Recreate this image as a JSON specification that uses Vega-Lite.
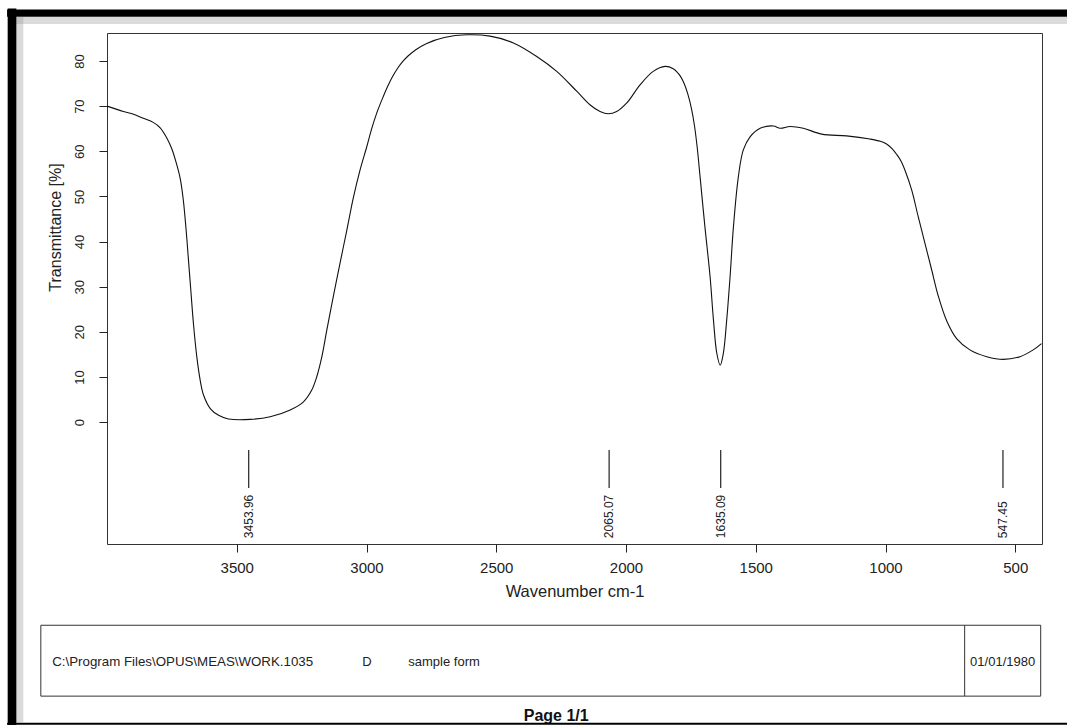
{
  "$schema": "https://vega.github.io/schema/vega-lite/v6.json",
  "autosize": {"type": "none"},
  "width": 935,
  "height": 511,
  "padding": {"left": 107, "top": 33, "right": 25, "bottom": 181},
  "background": "white",
  "config": {
    "view": {"stroke": "#333", "strokeWidth": 1},
    "font": "Liberation Sans",
    "text": {"font": "Liberation Sans", "color": "#222"}
  },
  "datasets": {
    "spectrum": [
      {"wn": 4000, "T": 70.0}, {"wn": 3937, "T": 68.8}, {"wn": 3898, "T": 68.2}, {"wn": 3860, "T": 67.3},
      {"wn": 3822, "T": 66.4}, {"wn": 3795, "T": 65.2}, {"wn": 3770, "T": 63.0}, {"wn": 3750, "T": 60.5},
      {"wn": 3735, "T": 57.8}, {"wn": 3718, "T": 54.0}, {"wn": 3706, "T": 49.2}, {"wn": 3695, "T": 42.5},
      {"wn": 3687, "T": 36.6}, {"wn": 3677, "T": 29.2}, {"wn": 3667, "T": 21.9}, {"wn": 3654, "T": 14.5},
      {"wn": 3641, "T": 9.3}, {"wn": 3628, "T": 6.0}, {"wn": 3602, "T": 3.0}, {"wn": 3570, "T": 1.5},
      {"wn": 3532, "T": 0.7}, {"wn": 3448, "T": 0.6}, {"wn": 3371, "T": 1.2}, {"wn": 3294, "T": 2.7},
      {"wn": 3243, "T": 4.5}, {"wn": 3211, "T": 7.1}, {"wn": 3192, "T": 10.0}, {"wn": 3172, "T": 14.5},
      {"wn": 3153, "T": 20.4}, {"wn": 3128, "T": 27.8}, {"wn": 3102, "T": 35.2}, {"wn": 3076, "T": 42.5},
      {"wn": 3050, "T": 49.9}, {"wn": 3025, "T": 55.8}, {"wn": 2999, "T": 61.0}, {"wn": 2980, "T": 65.0},
      {"wn": 2961, "T": 68.4}, {"wn": 2940, "T": 71.5}, {"wn": 2920, "T": 74.2}, {"wn": 2900, "T": 76.5},
      {"wn": 2880, "T": 78.4}, {"wn": 2860, "T": 79.9}, {"wn": 2840, "T": 81.1}, {"wn": 2810, "T": 82.5},
      {"wn": 2768, "T": 83.9}, {"wn": 2700, "T": 85.2}, {"wn": 2614, "T": 85.8}, {"wn": 2524, "T": 85.5},
      {"wn": 2434, "T": 84.0}, {"wn": 2344, "T": 81.0}, {"wn": 2267, "T": 77.7}, {"wn": 2190, "T": 73.3},
      {"wn": 2139, "T": 70.3}, {"wn": 2100, "T": 68.8}, {"wn": 2068, "T": 68.3}, {"wn": 2036, "T": 68.8},
      {"wn": 1997, "T": 70.7}, {"wn": 1946, "T": 74.7}, {"wn": 1895, "T": 77.7}, {"wn": 1849, "T": 78.8},
      {"wn": 1818, "T": 78.3}, {"wn": 1804, "T": 77.6}, {"wn": 1790, "T": 76.6}, {"wn": 1776, "T": 75.0},
      {"wn": 1762, "T": 72.7}, {"wn": 1748, "T": 69.5}, {"wn": 1736, "T": 65.6}, {"wn": 1725, "T": 60.5},
      {"wn": 1715, "T": 54.6}, {"wn": 1696, "T": 43.3}, {"wn": 1676, "T": 32.2}, {"wn": 1663, "T": 22.6},
      {"wn": 1650, "T": 15.2}, {"wn": 1637, "T": 12.6}, {"wn": 1625, "T": 15.2}, {"wn": 1612, "T": 22.6},
      {"wn": 1599, "T": 32.2}, {"wn": 1586, "T": 43.3}, {"wn": 1567, "T": 54.4}, {"wn": 1548, "T": 60.3},
      {"wn": 1522, "T": 63.2}, {"wn": 1483, "T": 65.1}, {"wn": 1432, "T": 65.6}, {"wn": 1406, "T": 65.1},
      {"wn": 1368, "T": 65.5}, {"wn": 1317, "T": 65.1}, {"wn": 1246, "T": 63.8}, {"wn": 1150, "T": 63.4},
      {"wn": 1060, "T": 62.7}, {"wn": 1020, "T": 62.2}, {"wn": 996, "T": 61.6}, {"wn": 975, "T": 60.6},
      {"wn": 957, "T": 59.3}, {"wn": 940, "T": 57.8}, {"wn": 925, "T": 55.8},
      {"wn": 899, "T": 51.4}, {"wn": 874, "T": 45.5}, {"wn": 848, "T": 39.6}, {"wn": 822, "T": 33.7},
      {"wn": 797, "T": 28.0}, {"wn": 764, "T": 22.4}, {"wn": 726, "T": 18.5}, {"wn": 675, "T": 16.0},
      {"wn": 610, "T": 14.5}, {"wn": 546, "T": 13.9}, {"wn": 482, "T": 14.5}, {"wn": 431, "T": 16.0},
      {"wn": 399, "T": 17.4}
    ],
    "peaks": [
      {"peak": 3453.96, "label": "3453.96"},
      {"peak": 2065.07, "label": "2065.07"},
      {"peak": 1635.09, "label": "1635.09"},
      {"peak": 547.45, "label": "547.45"}
    ]
  },
  "layer": [
    {
      "data": {"name": "spectrum"},
      "mark": {"type": "line", "color": "#111", "strokeWidth": 1.1, "interpolate": "catmull-rom"},
      "encoding": {
        "x": {
          "field": "wn", "type": "quantitative",
          "scale": {"domain": [397, 4000], "reverse": true, "nice": false, "zero": false},
          "axis": {
            "title": "Wavenumber cm-1", "values": [500, 1000, 1500, 2000, 2500, 3000, 3500], "format": "d",
            "domain": false, "grid": false, "ticks": true, "tickSize": 8, "tickColor": "#222",
            "labelFont": "Liberation Sans", "labelFontSize": 15, "labelColor": "#222", "labelPadding": 8,
            "titleFont": "Liberation Sans", "titleFontSize": 16.5, "titleFontWeight": "normal", "titleColor": "#222", "titlePadding": 8
          }
        },
        "y": {
          "field": "T", "type": "quantitative",
          "scale": {"domain": [-27, 86.2], "nice": false, "zero": false},
          "axis": {
            "title": "Transmittance [%]", "values": [0, 10, 20, 30, 40, 50, 60, 70, 80],
            "domain": false, "grid": false, "tickSize": 8, "tickColor": "#222",
            "labelAngle": -90, "labelAlign": "center", "labelBaseline": "bottom",
            "labelFont": "Liberation Sans", "labelFontSize": 13, "labelColor": "#222", "labelPadding": 13,
            "titleFont": "Liberation Sans", "titleFontSize": 16, "titleFontWeight": "normal", "titleColor": "#222",
            "titleAngle": -90, "titleX": -47, "titleY": 194, "titleAlign": "center", "titleBaseline": "alphabetic"
          }
        },
        "order": {"field": "wn", "sort": "descending"}
      }
    },
    {
      "data": {"name": "peaks"},
      "mark": {"type": "rule", "color": "#222", "strokeWidth": 1.2},
      "encoding": {
        "x": {"field": "peak", "type": "quantitative"},
        "y": {"datum": -6.2},
        "y2": {"datum": -14.6}
      }
    },
    {
      "data": {"name": "peaks"},
      "mark": {"type": "text", "angle": 270, "align": "left", "baseline": "middle", "fontSize": 12, "color": "#222"},
      "encoding": {
        "x": {"field": "peak", "type": "quantitative"},
        "y": {"datum": -25.7},
        "text": {"field": "label"}
      }
    },
    {
      "data": {"values": [{"part": "footer box"}]},
      "mark": {"type": "rect", "fill": "white", "stroke": "#333", "strokeWidth": 1, "clip": false},
      "encoding": {
        "x": {"datum": 4255}, "x2": {"datum": 402},
        "y": {"datum": -45.0}, "y2": {"datum": -60.7}
      }
    },
    {
      "data": {"values": [{"part": "footer divider"}]},
      "mark": {"type": "rule", "color": "#333", "strokeWidth": 1},
      "encoding": {
        "x": {"datum": 695},
        "y": {"datum": -45.0}, "y2": {"datum": -60.7}
      }
    },
    {
      "data": {"values": [{"text": "C:\\Program Files\\OPUS\\MEAS\\WORK.1035"}]},
      "mark": {"type": "text", "align": "left", "baseline": "middle", "fontSize": 13.3, "color": "#222"},
      "encoding": {"x": {"datum": 4211}, "y": {"datum": -53.2}, "text": {"field": "text"}}
    },
    {
      "data": {"values": [{"text": "D"}]},
      "mark": {"type": "text", "align": "left", "baseline": "middle", "fontSize": 13, "color": "#222"},
      "encoding": {"x": {"datum": 3016}, "y": {"datum": -53.2}, "text": {"field": "text"}}
    },
    {
      "data": {"values": [{"text": "sample form"}]},
      "mark": {"type": "text", "align": "left", "baseline": "middle", "fontSize": 13, "color": "#222"},
      "encoding": {"x": {"datum": 2839}, "y": {"datum": -53.2}, "text": {"field": "text"}}
    },
    {
      "data": {"values": [{"text": "01/01/1980"}]},
      "mark": {"type": "text", "align": "left", "baseline": "middle", "fontSize": 13, "color": "#222"},
      "encoding": {"x": {"datum": 674}, "y": {"datum": -53.2}, "text": {"field": "text"}}
    },
    {
      "data": {"values": [{"text": "Page 1/1"}]},
      "mark": {"type": "text", "align": "center", "baseline": "alphabetic", "fontSize": 16, "fontWeight": "bold", "color": "#111"},
      "encoding": {"x": {"datum": 2269}, "y": {"datum": -66.2}, "text": {"field": "text"}}
    },
    {
      "data": {"values": [{"part": "top shadow"}]},
      "mark": {"type": "rule", "color": "#999", "opacity": 0.35, "strokeWidth": 7},
      "encoding": {"x": {"datum": 4350}, "x2": {"datum": 300}, "y": {"datum": 88.97}}
    },
    {
      "data": {"values": [{"part": "left shadow"}]},
      "mark": {"type": "rule", "color": "#999", "opacity": 0.35, "strokeWidth": 7},
      "encoding": {"x": {"datum": 4336}, "y": {"datum": 89.75}, "y2": {"datum": -66.5}}
    },
    {
      "data": {"values": [{"part": "top border"}]},
      "mark": {"type": "rule", "color": "black", "strokeWidth": 7.4},
      "encoding": {"x": {"datum": 4385}, "x2": {"datum": 300}, "y": {"datum": 90.6}}
    },
    {
      "data": {"values": [{"part": "left border"}]},
      "mark": {"type": "rule", "color": "black", "strokeWidth": 8.7},
      "encoding": {"x": {"datum": 4366}, "y": {"datum": 91.6}, "y2": {"datum": -67.3}}
    },
    {
      "data": {"values": [{"part": "bottom border"}]},
      "mark": {"type": "rule", "color": "black", "strokeWidth": 2},
      "encoding": {"x": {"datum": 4385}, "x2": {"datum": 300}, "y": {"datum": -66.8}}
    }
  ]
}
